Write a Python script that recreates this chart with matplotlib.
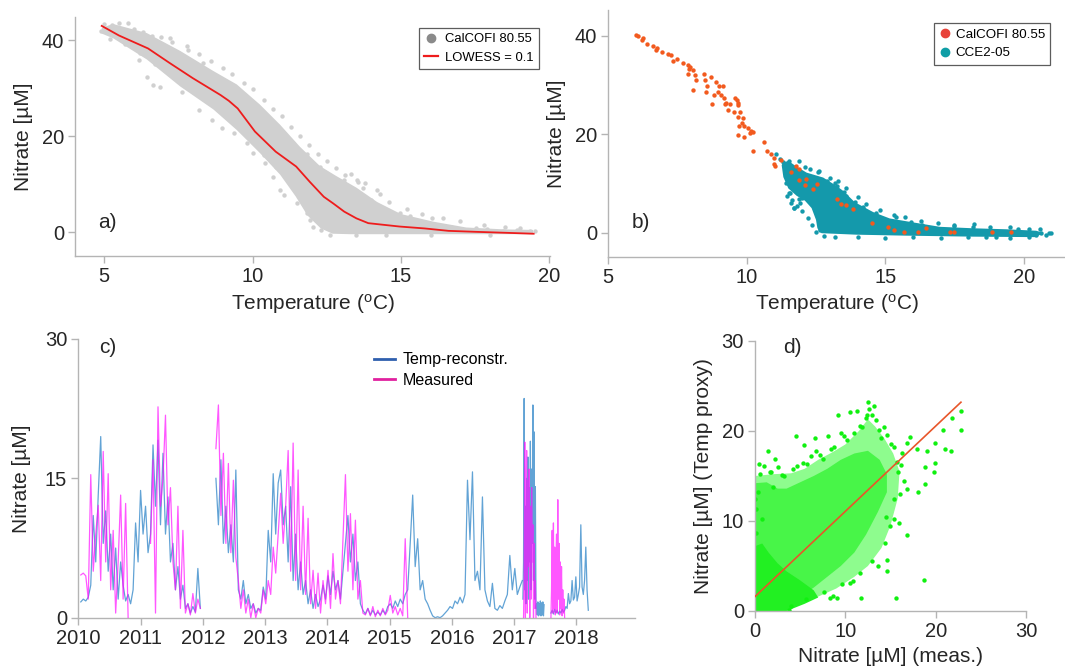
import numpy as np
import matplotlib
matplotlib.use('Agg')
import matplotlib.pyplot as plt
from matplotlib.lines import Line2D

plt.rcParams['font.family'] = ['Liberation Sans', 'DejaVu Sans']
plt.rcParams['mathtext.fontset'] = 'custom'
plt.rcParams['mathtext.rm'] = 'Liberation Sans'

# ---------------- panel a data ----------------
lowess_T = [4.92, 5.5, 6.48, 7.2, 7.99, 8.92, 9.2, 9.5, 10.08, 10.78, 11.47, 11.93, 12.4,
            12.72, 13.09, 13.5, 13.9, 14.95, 15.8, 16.6, 17.5, 18.5, 19.47]
lowess_N = [43.0, 41.0, 38.3, 35.3, 32.1, 28.6, 27.4, 25.8, 21.0, 16.8, 13.7, 10.5, 7.4,
            6.0, 4.3, 2.9, 1.9, 1.2, 0.8, 0.3, 0.1, -0.1, -0.3]
# dense core of the CalCOFI cloud (outline)
a_core_T = [4.92, 5.3, 6.44, 7.56, 8.68, 9.47, 10.25, 10.93, 11.6, 12.27, 12.8, 13.5, 14.2, 15.0,
            16.1, 17.2, 18.5, 19.45, 19.45, 17.0, 15.0, 13.3, 12.7, 12.3, 11.85, 11.45, 10.93,
            10.25, 9.47, 8.68, 7.56, 6.44, 5.31, 4.92]
a_core_N = [42.6, 43.4, 41.5, 37.8, 33.6, 30.8, 26.6, 22.4, 17.8, 13.8, 11.8, 9.3, 6.3, 3.8,
            2.2, 1.0, 0.6, 0.5, -0.4, -0.4, -0.4, -0.4, -0.3, 0.8, 3.5, 7.5, 12.0,
            16.5, 21.3, 25.6, 30.4, 36.0, 40.4, 41.4]
# scattered CalCOFI samples around the core
a_pts_T = [5.82, 5.26, 4.91, 5.65, 6.04, 6.61, 7.22, 7.84, 8.34, 6.16, 6.44, 6.64, 6.89, 7.61,
           8.18, 8.63, 8.96, 9.36, 9.80, 10.03, 10.43, 10.70, 10.93, 11.05, 11.49, 11.82, 12.05,
           10.25, 10.93, 11.37, 11.82, 12.27, 9.07, 9.47, 13.51, 14.18, 13.73, 14.0, 14.45, 14.96,
           15.30, 16.03, 16.70, 17.54, 18.44, 19.34, 19.5, 13.1, 12.1, 11.93, 12.6, 13.04, 12.38,
           13.09, 13.55, 12.9, 13.3, 15.6, 17.9, 18.9,
           5.0, 5.5, 6.0, 6.3, 6.9, 7.3, 7.8, 8.2, 8.6, 9.0, 9.3, 9.7, 10.0, 10.4, 10.7, 11.0,
           11.3, 11.6, 11.9, 12.2, 12.5, 12.8, 13.3, 13.8, 14.3, 14.6, 15.2, 15.7, 16.4, 17.0,
           17.8, 18.5, 19.0,
           5.2, 5.7, 6.2, 6.7, 7.1, 7.5, 7.9, 8.3, 8.8, 9.2, 9.6, 10.0, 10.4, 10.8, 11.2, 11.6,
           12.0, 12.3, 12.6, 13.5, 14.5, 16.0, 18.0]
a_pts_N = [43.5, 43.2, 42.0, 40.3, 41.5, 40.8, 40.4, 37.9, 35.2, 35.8, 32.3, 30.7, 30.3, 29.3,
           25.5, 23.4, 21.7, 20.6, 18.6, 16.5, 14.4, 11.6, 8.8, 7.8, 6.1, 4.0, 1.1,
           24.8, 21.4, 18.6, 16.4, 13.7, 30.3, 28.6, 10.9, 8.8, 9.2, 6.8, 4.7, 4.0,
           3.3, 2.9, 1.2, 0.9, 0.3, 0.3, 0.3, 12.0, 3.6, 2.6, 1.9, 1.2, 3.9,
           10.9, 10.5, 8.0, 7.0, 2.0, 0.6, 0.4,
           43.3, 43.6, 42.4, 41.8, 40.6, 39.6, 38.8, 37.2, 35.6, 34.3, 33.0, 31.2, 29.8, 27.6,
           25.7, 24.2, 22.0, 20.0, 18.1, 16.3, 14.8, 13.3, 12.2, 10.2, 8.0, 6.4, 4.8, 3.8, 2.9,
           2.3, 1.6, 1.1, 0.9,
           40.2, 39.3, 37.3, 35.0, 33.6, 31.6, 29.8, 28.5, 25.8, 23.8, 21.5, 19.0, 16.2, 13.5,
           10.8, 7.2, 3.8, 0.5, -0.5, -0.6, -0.6, -0.5, -0.6]

# ---------------- panel b data ----------------
calcofi_T = [6.01, 6.09, 6.24, 6.22, 6.39, 6.61, 6.76, 6.71, 6.95, 7.16, 7.28, 7.35, 7.47, 7.68,
             7.86, 7.90, 7.96, 8.06, 7.86, 8.12, 8.15, 8.06, 8.45, 8.48, 8.70, 8.58, 8.52, 8.89,
             9.01, 9.14, 8.95, 8.82, 8.73, 9.07, 9.17, 9.26, 9.20, 9.38, 9.32, 9.57, 9.63, 9.69,
             9.67, 9.54, 9.75, 9.67, 9.87, 9.81, 9.71, 9.91, 10.06, 10.16, 10.21, 10.12, 9.69,
             9.91, 10.24, 10.61, 10.74, 10.86, 10.98, 10.98, 11.02, 11.23, 11.60, 11.76, 11.90,
             11.88, 12.15, 12.09, 12.52, 12.40, 13.26, 13.39, 13.57, 13.82, 14.53, 15.11, 15.30,
             15.67, 16.18, 16.47, 17.33, 17.48, 18.87, 19.55]
calcofi_N = [40.1, 40.0, 39.6, 39.1, 38.3, 37.9, 37.6, 37.1, 36.6, 36.2, 36.1, 34.9, 35.2, 34.4,
             34.1, 33.3, 33.7, 33.0, 32.3, 32.0, 31.1, 28.9, 32.2, 31.1, 31.7, 29.8, 28.6, 30.7,
             29.8, 29.7, 28.6, 28.0, 26.1, 28.0, 27.3, 26.3, 26.1, 26.2, 25.0, 27.3, 26.9, 26.4,
             25.9, 24.6, 24.6, 23.4, 23.2, 22.3, 21.7, 21.6, 21.2, 20.7, 20.5, 20.2, 19.9,
             19.5, 16.6, 18.4, 16.6, 15.9, 15.1, 14.0, 13.5, 14.8, 12.3, 13.5, 13.0,
             10.7, 10.9, 9.7, 9.9, 8.8, 6.9, 5.8, 5.6, 4.9, 2.0, 1.1, 0.6,
             0.1, 0.1, 1.0, 0.1, 0.2, 0.1, 0.1]
cce_core_T = [11.3, 11.5, 11.75, 12.16, 12.76, 13.24, 13.48, 13.9, 14.56, 15.16, 16.0, 16.97,
              18.17, 19.37, 20.45, 20.7, 20.45, 18.17, 15.76, 13.96, 12.7, 12.55, 12.5, 12.34,
              12.1, 11.8, 11.5, 11.32, 11.26]
cce_core_N = [14.2, 14.6, 13.6, 12.2, 11.2, 9.5, 8.5, 6.2, 4.2, 2.9, 2.1, 1.2,
              0.9, 0.7, 0.4, 0.0, -0.9, -0.8, -0.6, -0.4, -0.1, 0.9, 2.6, 5.0,
              6.5, 7.5, 9.0, 11.3, 13.7]
cce_pts_T = [11.32, 11.53, 11.56, 11.70, 11.98, 11.92, 12.64, 13.24, 13.90, 14.68, 15.94, 18.17,
             18.65, 20.63, 20.93, 20.45, 13.18, 12.10, 12.58, 11.68, 11.04, 11.53, 11.65, 11.71,
             11.90, 12.64, 14.74, 16.34, 13.6, 14.2, 15.4, 17.5, 19.8, 21.0, 12.9, 13.5,
             11.4, 11.45, 11.6, 11.8, 12.0, 12.2, 12.35, 12.5, 12.8, 13.2, 14.0, 15.0, 16.0, 17.0,
             18.0, 19.0, 19.5, 20.2, 20.8,
             11.2, 11.9, 12.3, 12.6, 13.0, 13.3, 13.6, 14.0, 14.3, 14.8, 15.3, 15.7, 16.3, 16.9,
             17.5, 18.2, 18.8, 19.5, 20.2, 20.6]
cce_pts_N = [14.4, 14.6, 8.0, 4.95, 6.98, 6.0, 0.7, 9.4, 6.3, 4.0, 2.2, 1.1,
             -0.9, -0.1, -0.1, -0.5, 10.0, 13.4, 12.4, 12.7, 16.0, 8.0, 6.6, 4.95,
             6.9, 0.55, 3.0, 1.5, 7.5, 5.2, 3.2, 1.4, 0.8, 0.0, 10.5, 8.2,
             10.0, 7.5, 6.0, 5.5, 4.5, 3.0, 1.5, 0.2, -0.6, -0.8, -0.9, -1.0, -0.9, -1.0,
             -0.9, -0.9, -1.0, -0.8, -0.5,
             15.0, 14.5, 13.0, 12.6, 11.2, 10.4, 9.0, 7.3, 5.8, 4.6, 3.6, 3.2, 2.4, 2.0,
             1.6, 1.7, 1.2, 1.1, 0.8, 0.7]

# ---------------- panel c data (segments: start year, step, values) ----------------
recon_a_start, recon_a_step = 2010.04, 0.04
recon_a = [1.7, 2.0, 1.8, 2.2, 3.5, 11.0, 6.0, 13.2, 19.5, 8.0, 11.5, 5.0, 9.0, 3.0, 7.5, 2.0,
           6.0, 3.5, 1.8, 2.5, 1.5, 3.0, 10.2, 6.0, 13.7, 9.0, 12.0, 7.0, 9.0, 18.6, 12.0, 19.1,
           10.0, 17.7, 9.0, 13.0, 6.0, 8.0, 3.0, 5.5, 2.0, 3.5, 1.0, 1.5, 0.5, 1.2, 0.6, 5.3, 1.0]
recon_b_start, recon_b_step = 2012.21, 0.04
recon_b = [15.0, 10.0, 17.0, 8.0, 12.0, 7.0, 10.0, 6.0, 15.9, 3.0, 2.0, 4.0, 1.5, 2.5, 1.0, 1.5,
           0.5, 1.0, 0.8, 3.3, 2.0, 9.4, 6.0, 15.5, 9.0, 14.5, 15.9, 10.0, 12.0, 6.0, 14.1, 4.0,
           9.0, 3.0, 6.0, 2.5, 4.0, 1.5, 3.0, 1.0, 2.5, 1.2, 2.0, 3.5, 2.0, 4.5, 2.5, 5.0,
           3.0, 4.0, 2.0, 5.0, 8.0, 11.0, 6.0, 9.0, 4.0, 6.0, 1.5, 0.8, 0.4, 1.0, 0.3, 0.8,
           0.3, 0.6, 0.3, 0.8, 0.4, 1.2, 1.5, 1.0, 1.8, 1.2, 2.0, 1.5, 2.5, 3.0, 8.0, 13.2,
           5.5, 8.5, 3.0, 4.0, 2.0, 1.5, 0.8, 0.2, 0.0, 0.1, 0.0, 0.2, 0.5, 0.8, 1.2, 1.0,
           1.8, 1.5, 2.2, 1.6, 2.5, 14.8, 8.4, 15.7, 4.0, 5.0, 3.0, 13.0, 3.0, 1.8, 1.2, 3.7,
           1.0, 0.8, 1.3, 1.0, 1.8, 2.5, 6.7, 3.0, 5.3, 2.5, 3.3, 4.0]
recon_c_start, recon_c_step = 2017.14, 0.01
recon_c = [2.0, 6.0, 23.6, 3.0, 12.0, 1.5, 15.0, 4.0, 17.3, 2.0, 14.0, 6.0, 19.0, 3.0, 16.0,
           8.0, 22.9, 4.0, 20.0, 2.0, 14.1, 1.0, 1.5, 0.3, 1.7, 0.2, 1.5, 0.3, 1.8, 0.2, 1.6,
           0.3, 1.7, 0.2, 1.4]
recon_d_start, recon_d_step = 2017.59, 0.02
recon_d = [0.5, 0.8, 0.4, 0.9, 0.5, 0.8, 0.4, 0.7, 0.5, 0.9, 0.6, 0.8, 1.2, 1.0, 2.6, 1.5,
           1.8, 4.0, 1.9, 2.2, 4.4, 1.8, 2.5, 3.3, 10.0, 3.3, 2.5, 4.0, 7.6, 3.0, 0.8]

meas_a_start, meas_a_step = 2010.04, 0.04
meas_a = [4.6, 4.8, 4.5, 2.0, 15.4, 5.0, 9.0, 12.1, 4.0, 17.9, 6.0, 15.5, 3.0, 9.4, 0.5, 6.0,
          13.2, 2.0, 12.3, 0.0]
meas_b_start, meas_b_step = 2011.16, 0.04
meas_b = [8.0, 17.0, 0.5, 22.7, 12.0, 15.0, 21.8, 10.0, 14.0, 6.0, 3.0, 12.0, 1.0, 9.4, 0.5,
          1.5, 0.3, 2.6, 0.5, 2.0, 1.0]
meas_c_start, meas_c_step = 2012.21, 0.04
meas_c = [18.2, 22.9, 11.0, 17.7, 8.0, 16.6, 7.0, 14.8, 6.5, 4.0, 1.0, 3.0, 0.5, 2.0, 0.0, 1.5,
          0.0, 1.0, 0.5, 3.0, 1.5, 4.0, 2.5, 7.6, 4.8, 9.0, 13.4, 8.0, 12.0, 18.0, 5.0, 18.8,
          4.0, 15.9, 3.0, 12.0, 2.5, 10.7, 1.5, 5.1, 1.0, 4.8, 0.5, 4.0, 1.5, 5.1, 1.0, 6.9,
          2.0, 4.0, 1.5, 8.4, 15.4, 5.0, 11.2, 3.0, 10.5, 2.0, 4.0, 0.5, 0.3, 1.0, 0.2, 1.2,
          0.1, 0.8, 0.2, 1.0, 0.3, 0.8, 2.4, 0.5, 1.2, 0.3, 1.0, 0.2, 8.5, 0.0]
meas_d_start, meas_d_step = 2017.15, 0.01
meas_d = [0.0, 4.0, 18.9, 0.0, 12.0, 18.0, 0.5, 14.8, 5.5, 16.0, 0.0, 12.0, 2.0, 14.0, 6.0,
          10.0, 0.0, 8.0, 1.0, 4.0, 0.0]
meas_e_start, meas_e_step = 2017.59, 0.01
meas_e = [0.0, 3.0, 9.4, 0.5, 10.2, 1.0, 7.6, 0.3, 6.0, 9.0, 0.5, 12.7, 2.0, 8.0, 0.3, 6.0,
          1.0, 5.5, 0.2, 3.0, 0.5, 2.0, 0.0]

# ---------------- panel d data ----------------
fit_x = [0.0, 22.8]
fit_y = [1.6, 23.2]
d_outer_x = [0, 0, 2, 4, 5.5, 7, 8.5, 10, 11.5, 12.5, 13.3, 14.3, 15.3, 16, 15.8, 15, 14, 12.5,
             11, 9, 7, 5, 3.5, 3]
d_outer_y = [0, 15, 15.2, 15.3, 15.8, 16.8, 17.6, 18.5, 20, 21.3, 20.5, 19.2, 17.5, 15.5, 12.5,
             9.5, 7, 5, 3.8, 2.5, 1.6, 0.9, 0.2, 0]
d_mid_x = [0, 0, 1.3, 2.5, 3.5, 5, 6.5, 8, 9.5, 11, 12.5, 13.8, 14.6, 14.6, 13.6, 12.3, 11,
           9.5, 8, 6.5, 5, 3.5, 3]
d_mid_y = [0, 14.2, 14.3, 13.6, 13.6, 14.3, 15, 15.8, 16.8, 17.5, 17.8, 16.8, 15.2, 13.2, 11,
           8.5, 6.5, 5, 3.8, 2.6, 1.6, 0.5, 0]
d_dense_x = [0, 0, 0.8, 1.5, 2.5, 3.5, 5, 6.5, 7, 5.5, 4, 3.5]
d_dense_y = [0, 7.2, 7.5, 6.5, 5.3, 4.4, 3.4, 2.3, 1.5, 0.8, 0.2, 0]
d_pts_x = [4.5, 1.4, 5.4, 2.2, 9.2, 10.5, 12.5, 8.1, 6.6, 9.8, 16.8, 17.9, 19.0, 19.9, 20.8,
           21.8, 22.8, 22.8, 21.7, 21.0, 19.9, 19.8, 18.8, 18.8, 18.0, 16.8, 16.8, 14.6, 14.6,
           18.7, 15.6, 11.7, 9.1, 8.6, 10.5, 10.8, 15.7, 15.8, 15.4, 14.5, 14.9, 1.0, 0.0, 0.1,
           0.1, 1.7, 4.6, 5.3, 6.8, 7.5, 8.4, 11.3, 12.3, 12.6, 13.7, 14.3, 14.0, 11.9,
           0.3, 0.8, 2.0, 3.2, 16.3, 17.2, 12.9, 13.2, 11.0,
           0.5, 1.8, 3.0, 4.2, 5.8, 7.2, 8.8, 10.2, 11.6, 12.4, 13.4, 14.6, 15.4, 16.2, 16.1,
           15.4, 14.4, 13.0, 11.6, 9.6, 7.6, 5.6, 4.0, 3.8, 0.4, 2.5, 6.2, 9.5, 15.0, 16.5,
           15.9, 13.6, 8.3]
d_pts_y = [19.4, 17.8, 18.5, 16.9, 21.8, 22.1, 23.2, 19.4, 19.2, 19.5, 18.7, 18.0, 17.8, 18.7,
           20.1, 21.4, 22.2, 20.1, 17.8, 18.0, 16.5, 15.4, 16.0, 14.1, 13.2, 13.6, 8.4, 5.7, 4.5,
           3.5, 1.5, 1.5, 1.4, 1.7, 3.1, 3.3, 16.6, 15.4, 12.4, 10.5, 9.4, 16.1, 12.4, 11.3,
           8.7, 15.4, 16.1, 16.5, 17.8, 16.9, 18.0, 22.2, 21.4, 22.5, 20.1, 20.5, 19.2, 20.5,
           13.2, 10.2, 13.8, 15.0, 17.6, 19.3, 21.8, 22.8, 19.8,
           15.2, 15.5, 15.1, 15.8, 16.3, 17.3, 18.2, 19.0, 20.6, 21.8, 21.2, 19.6, 18.2, 16.2,
           13.0, 10.2, 7.6, 5.6, 4.2, 3.0, 2.1, 1.3, 0.6, 0.1, 16.3, 16.0, 17.2, 19.8, 18.6,
           14.5, 9.8, 5.0, 1.5]

# ---------------- styling ----------------
W, H = 1065, 666
fig = plt.figure(figsize=(W / 100, H / 100), dpi=100)
SPINE = '#b4b4b4'
TXT = '#262626'


def px_axes(l, t, r, b):
    return fig.add_axes([l / W, 1 - b / H, (r - l) / W, (b - t) / H])


def style(ax, fs):
    for s in ['top', 'right']:
        ax.spines[s].set_visible(False)
    for s in ['left', 'bottom']:
        ax.spines[s].set_color(SPINE)
        ax.spines[s].set_linewidth(1.0)
    ax.tick_params(direction='out', length=5, width=1, color=SPINE, labelcolor=TXT,
                   labelsize=fs, pad=3)


tlabel = 'Temperature ($\\mathregular{^{o}}$C)'
GRAY = '#d0d0d0'
TEAL = '#1499ab'
GREEN = '#10f010'

# ---- panel a ----
ax = px_axes(75, 17, 550, 256)
style(ax, 14.5)
ax.fill(a_core_T, a_core_N, color=GRAY, lw=0, zorder=1)
ax.scatter(a_pts_T, a_pts_N, s=10, color=GRAY, linewidths=0, zorder=1)
ax.plot(lowess_T, lowess_N, color='#ee1c1c', lw=1.3, zorder=3)
ax.set_xlim(4.02, 20.02)
ax.set_ylim(-4.94, 44.85)
ax.set_xticks([5, 10, 15, 20])
ax.set_yticks([0, 20, 40])
ax.set_xlabel(tlabel, fontsize=15, color=TXT, labelpad=4)
ax.set_ylabel('Nitrate [µM]', fontsize=15, color=TXT, labelpad=6)
ax.text(0.048, 0.117, 'a)', transform=ax.transAxes, fontsize=15, color=TXT)
hA = [Line2D([], [], marker='o', ls='none', color='#8a8a8a', ms=6, label='CalCOFI 80.55'),
      Line2D([], [], color='#ee1c1c', lw=1.6, label='LOWESS = 0.1')]
lg = ax.legend(handles=hA, loc='upper right', bbox_to_anchor=(0.977, 0.954), fontsize=9.4,
               frameon=True, fancybox=False, edgecolor='#333333', handlelength=1.0,
               handletextpad=0.6, borderpad=0.4, labelspacing=0.5, borderaxespad=0)
lg.get_frame().set_linewidth(0.9)

# ---- panel b ----
ax = px_axes(608.3, 10, 1065, 256.7)
style(ax, 14.5)
ax.fill(cce_core_T, cce_core_N, color=TEAL, lw=0, zorder=1)
ax.scatter(cce_pts_T, cce_pts_N, s=10, color=TEAL, linewidths=0, zorder=1)
ax.scatter(calcofi_T, calcofi_N, s=10, color='#f25a1e', linewidths=0, zorder=3)
ax.set_xlim(5, 21.49)
ax.set_ylim(-4.87, 45.22)
ax.set_xticks([5, 10, 15, 20])
ax.set_yticks([0, 20, 40])
ax.set_xlabel(tlabel, fontsize=15, color=TXT, labelpad=4)
ax.set_ylabel('Nitrate [µM]', fontsize=15, color=TXT, labelpad=6)
ax.text(0.051, 0.116, 'b)', transform=ax.transAxes, fontsize=15, color=TXT)
hB = [Line2D([], [], marker='o', ls='none', color='#e8433a', ms=6, label='CalCOFI 80.55'),
      Line2D([], [], marker='o', ls='none', color='#0f9ea6', ms=6, label='CCE2-05')]
lg = ax.legend(handles=hB, loc='upper right', bbox_to_anchor=(0.968, 0.946), fontsize=9.6,
               frameon=True, fancybox=False, edgecolor='#333333', handlelength=0.8,
               handletextpad=0.4, borderpad=0.4, labelspacing=0.45, borderaxespad=0)
lg.get_frame().set_linewidth(0.9)

# ---- panel c ----
ax = px_axes(78.3, 339, 635, 617.7)
style(ax, 14.5)
for st, stp, v in [(recon_a_start, recon_a_step, recon_a), (recon_b_start, recon_b_step, recon_b),
                   (recon_c_start, recon_c_step, recon_c), (recon_d_start, recon_d_step, recon_d)]:
    t = st + stp * np.arange(len(v))
    ax.plot(t, v, color='#1f7cc4', lw=0.9, alpha=0.7, zorder=2)
for st, stp, v in [(meas_a_start, meas_a_step, meas_a), (meas_b_start, meas_b_step, meas_b),
                   (meas_c_start, meas_c_step, meas_c), (meas_d_start, meas_d_step, meas_d),
                   (meas_e_start, meas_e_step, meas_e)]:
    t = st + stp * np.arange(len(v))
    ax.plot(t, v, color='#ff10ff', lw=0.9, alpha=0.7, zorder=3)
ax.set_xlim(2010, 2018.94)
ax.set_ylim(0, 30)
ax.set_xticks(list(range(2010, 2019)))
ax.set_yticks([0, 15, 30])
ax.set_ylabel('Nitrate [µM]', fontsize=15, color=TXT, labelpad=10)
ax.text(0.037, 0.95, 'c)', transform=ax.transAxes, fontsize=15, color=TXT)
hC = [Line2D([], [], color='#2f5fae', lw=2, label='Temp-reconstr.'),
      Line2D([], [], color='#e0219f', lw=2, label='Measured')]
ax.legend(handles=hC, loc='upper left', bbox_to_anchor=(0.52, 0.975), fontsize=11.5,
          frameon=False, handlelength=1.3, handletextpad=0.5, labelspacing=0.35,
          borderaxespad=0)

# ---- panel d ----
ax = px_axes(755, 341, 1026, 611)
style(ax, 14.5)
ax.fill(d_outer_x, d_outer_y, color='#8efc8e', lw=0, zorder=1)
ax.fill(d_mid_x, d_mid_y, color='#48f548', lw=0, zorder=1)
ax.fill(d_dense_x, d_dense_y, color='#22f022', lw=0, zorder=1)
ax.scatter(d_pts_x, d_pts_y, s=10, color=GREEN, linewidths=0, zorder=2)
ax.plot(fit_x, fit_y, color='#e8562a', lw=1.2, zorder=3)
ax.set_xlim(0, 30)
ax.set_ylim(0, 30)
ax.set_xticks([0, 10, 20, 30])
ax.set_yticks([0, 10, 20, 30])
ax.set_xlabel('Nitrate [µM] (meas.)', fontsize=15, color=TXT, labelpad=4)
ax.set_ylabel('Nitrate [µM] (Temp proxy)', fontsize=15, color=TXT, labelpad=6)
ax.text(0.103, 0.955, 'd)', transform=ax.transAxes, fontsize=15, color=TXT)

fig.savefig('out.png', dpi=100)
